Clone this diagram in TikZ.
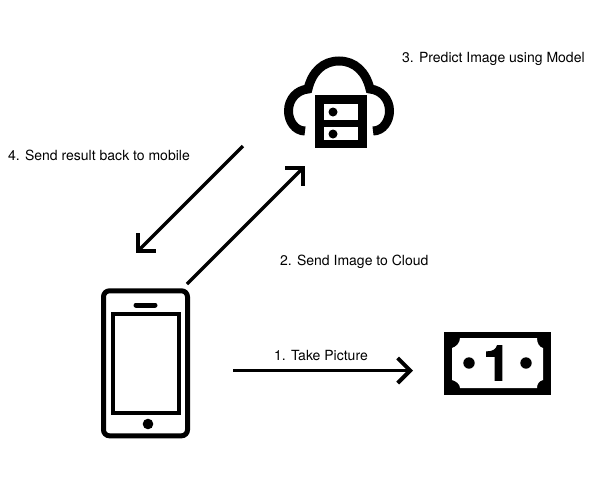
\documentclass[tikz,border=0pt]{standalone}
\usepackage{fontspec}
\setmainfont{TeX Gyre Heros}
\newfontfamily\onefont[FakeBold=2]{TeX Gyre Heros Bold}
\usetikzlibrary{arrows.meta}
\tikzset{
	lbl/.style={inner sep=0pt,font=\fontsize{14}{16}\selectfont},
	conn/.style={line width=3.2pt,-{Straight Barb[length=12.5pt,width=25pt,line width=4pt]}},
}
\begin{document}
\begin{tikzpicture}[x=1pt,y=-1pt]
	\useasboundingbox (0,0) rectangle (595,488);
	% cloud
	\draw[line width=9pt] (305,131) .. controls (295,131) and (288.5,121) .. (288.5,111) .. controls (288.5,99) and (297,90) .. (308,89) .. controls (312,72) and (323,61) .. (339,61) .. controls (355,61) and (366,72) .. (370,89) .. controls (381,90) and (389.5,99) .. (389.5,111) .. controls (389.5,121) and (383,131) .. (373,131);
	\draw[line width=8.5pt] (319.5,99.5) rectangle (362.5,144);
	\draw[line width=7pt] (319.5,123.5) -- (362.5,123.5);
	\fill (333,112) circle (4.5);
	\fill (333,134) circle (4.5);
	% phone
	\draw[line width=5pt,rounded corners=6pt] (103.5,290.8) rectangle (187.5,435.8);
	\draw[line width=4.5pt] (113.2,314.2) rectangle (178.8,412.8);
	\draw[line width=5pt,line cap=round] (136,305) -- (155,305);
	\fill (148,424) circle (5.3);
	% bill
	\fill (444,332) rectangle (551,395);
	\fill[white] (460,338) -- (537,338) .. controls (537,343) and (539,347) .. (543,348) -- (543,380) .. controls (539,381) and (537,384) .. (537,388) -- (460,388) .. controls (460,384) and (456,381) .. (452,380) -- (452,348) .. controls (456,347) and (460,343) .. (460,338) -- cycle;
	\fill (469,363) circle (5.7);
	\fill (526,363) circle (5.7);
	\node[inner sep=0pt,font=\fontsize{49}{49}\onefont] (one) at (497,363) {1};
	% labels
	\node[lbl,anchor=west] (predict) at (402,59) {3. Predict Image using Model};
	\node[lbl,anchor=west] (result) at (8,155) {4. Send result back to mobile};
	\node[lbl,anchor=west] (send) at (280,262) {2. Send Image to Cloud};
	\node[lbl,anchor=west] (take) at (274,355) {1. Take Picture};
	% arrows
	\coordinate (resultS) at (243,146);
	\coordinate (resultE) at (136,253);
	\coordinate (sendS) at (187,284);
	\coordinate (sendE) at (305,166);
	\coordinate (takeS) at (233,370.5);
	\coordinate (takeE) at (413,370.5);
	\draw[conn] (resultS) -- (resultE);
	\draw[conn] (sendS) -- (sendE);
	\draw[conn] (takeS) -- (takeE);
\end{tikzpicture}
\end{document}
